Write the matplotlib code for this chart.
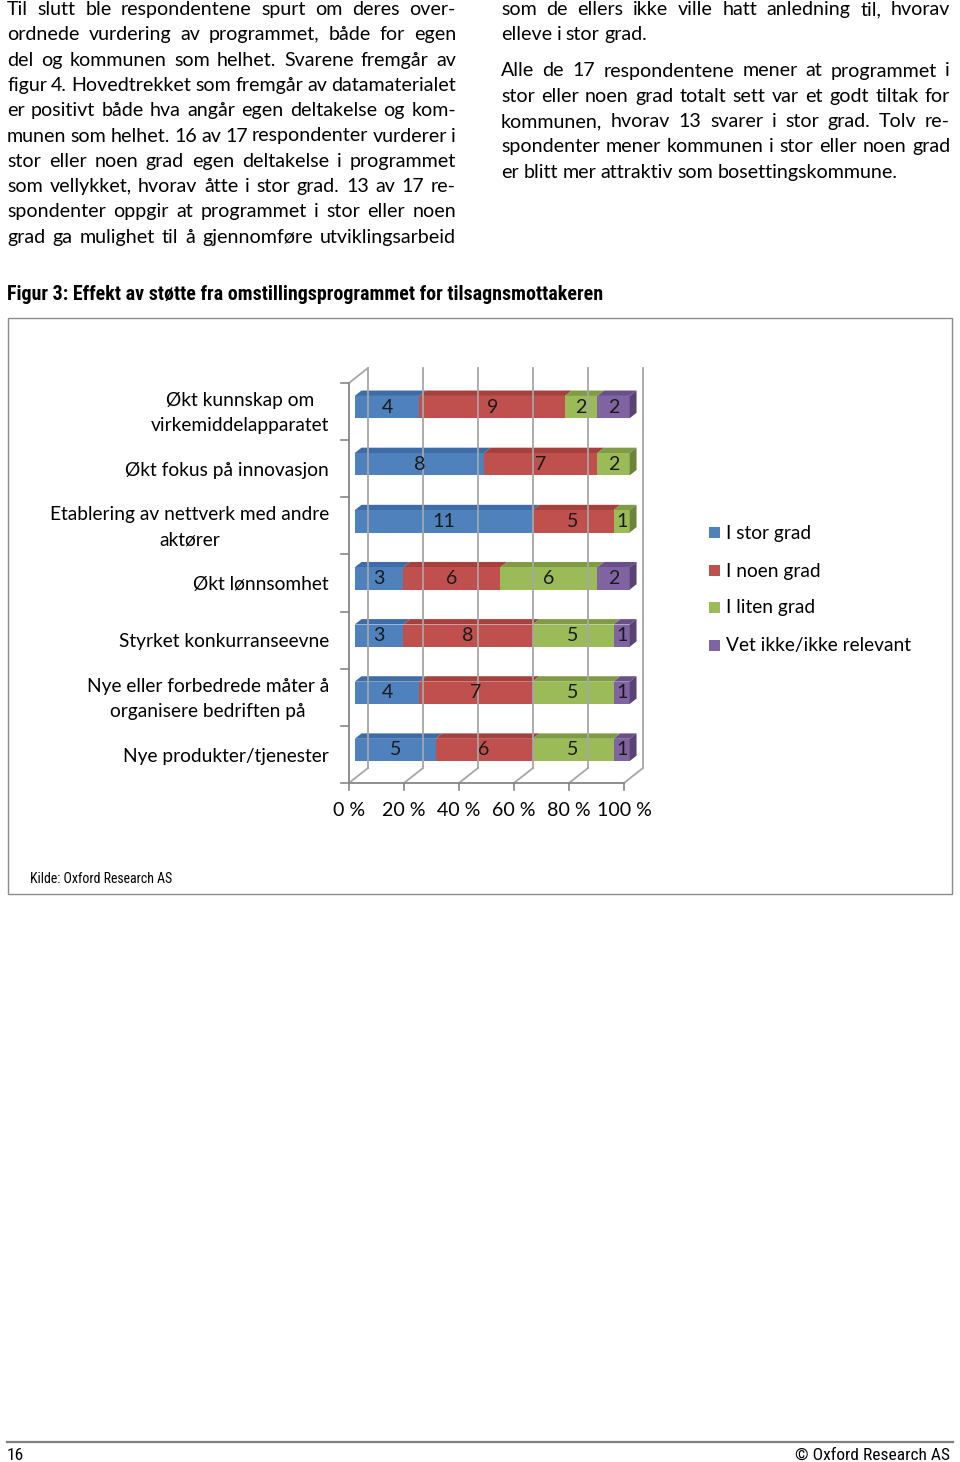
import matplotlib
matplotlib.use('Agg')
import matplotlib.pyplot as plt
from matplotlib.patches import Polygon, Rectangle
from matplotlib.lines import Line2D

W, H = 960, 1462

# Chart data
categories = ['Økt kunnskap om\nvirkemiddelapparatet', 'Økt fokus på innovasjon',
              'Etablering av nettverk med andre\naktører', 'Økt lønnsomhet',
              'Styrket konkurranseevne', 'Nye eller forbedrede måter å\norganisere bedriften på',
              'Nye produkter/tjenester']
series = ['I stor grad', 'I noen grad', 'I liten grad', 'Vet ikke/ikke relevant']
stor = [4, 8, 11, 3, 3, 4, 5]
noen = [9, 7, 5, 6, 8, 7, 6]
liten = [2, 2, 1, 6, 5, 5, 5]
vet_ikke = [2, 0, 0, 2, 1, 1, 1]
x_ticks = [0, 20, 40, 60, 80, 100]

front_colors = ['#4F81BD', '#C0504D', '#9BBB59', '#8064A2']
top_colors = ['#3D6CA6', '#A5403D', '#7F9C45', '#6A5089']
side_colors = ['#34598A', '#8A3532', '#6A8439', '#584374']

# Page text
left_col = ['Til slutt ble respondentene spurt om deres over-',
            'ordnede vurdering av programmet, både for egen',
            'del og kommunen som helhet. Svarene fremgår av',
            'figur 4. Hovedtrekket som fremgår av datamaterialet',
            'er positivt både hva angår egen deltakelse og kom-',
            'munen som helhet. 16 av 17 respondenter vurderer i',
            'stor eller noen grad egen deltakelse i programmet',
            'som vellykket, hvorav åtte i stor grad. 13 av 17 re-',
            'spondenter oppgir at programmet i stor eller noen',
            'grad ga mulighet til å gjennomføre utviklingsarbeid']
right_col = ['som de ellers ikke ville hatt anledning til, hvorav',
             'elleve i stor grad.',
             'Alle de 17 respondentene mener at programmet i',
             'stor eller noen grad totalt sett var et godt tiltak for',
             'kommunen, hvorav 13 svarer i stor grad. Tolv re-',
             'spondenter mener kommunen i stor eller noen grad',
             'er blitt mer attraktiv som bosettingskommune.']
left_base = [15, 40.3, 65.6, 90.9, 116.2, 141.5, 166.8, 192.1, 217.4, 242.7]
right_base = [15, 40.3, 76.5, 101.8, 127.1, 152.4, 177.7]
right_last = [1, 6]  # paragraph ends, not justified

title = 'Figur 3: Effekt av støtte fra omstillingsprogrammet for tilsagnsmottakeren'
source = 'Kilde: Oxford Research AS'

body_font = ['Lato', 'DejaVu Sans']
narrow_font = ['Liberation Sans Narrow', 'Roboto Condensed', 'Noto Sans Condensed',
               'DejaVu Sans Condensed', 'Liberation Sans']
fs = 14.1
fs_lab = 13.8

fig = plt.figure(figsize=(W / 100, H / 100), dpi=100)
renderer = fig.canvas.get_renderer()


def fx(px):
    return px / W


def fy(py):
    return 1 - py / H


def put_line(line, x0, x1, y, justify=True):
    words = line.split()
    texts = [fig.text(0, 0, w, fontsize=fs, family=body_font, va='baseline', ha='left')
             for w in words]
    widths = [t.get_window_extent(renderer).width for t in texts]
    if justify and len(words) > 1:
        gap = (x1 - x0 - sum(widths)) / (len(words) - 1)
    else:
        gap = fs * 100 / 72 * 0.23
    x = x0
    for t, w in zip(texts, widths):
        t.set_position((fx(x), fy(y)))
        x += w + gap


for line, y in zip(left_col, left_base):
    put_line(line, 7, 456, y)
for i, (line, y) in enumerate(zip(right_col, right_base)):
    put_line(line, 501, 950, y, justify=i not in right_last)

fig.text(fx(7), fy(295), title, fontsize=14.4, fontweight='bold', family=narrow_font,
         fontstretch='condensed', va='center', ha='left')

# chart frame
fig.add_artist(Rectangle((fx(8), fy(894)), 944 / W, 576 / H, transform=fig.transFigure,
                         fill=False, ec='#8c8c8c', lw=1))
fig.text(fx(30), fy(879), source, fontsize=10, family=narrow_font, fontstretch='condensed',
         va='center', ha='left')

# footer
fig.add_artist(Line2D([fx(7), fx(953)], [fy(1442), fy(1442)], color='#808080', lw=1.6))
fig.text(fx(7), fy(1455), '16', fontsize=12.5, family=narrow_font, fontstretch='condensed',
         va='center', ha='left')
fig.text(fx(950), fy(1455), '© Oxford Research AS', fontsize=12.5, family=narrow_font,
         fontstretch='condensed', va='center', ha='right')

# 3D stacked bar chart, front plane from x=349 to 624 px, y=383 to 783 px
ax = fig.add_axes([fx(349), fy(783), 275 / W, 400 / H])
n = len(categories)
ax.set_xlim(0, 100)
ax.set_ylim(n - 0.5, -0.5)
ax.axis('off')

px_x = 275 / 100
px_y = 400 / n
DX = 19 / px_x
DY = -15 / px_y
bottom, topy = n - 0.5, -0.5
grid_c = '#a6a6a6'
axis_c = '#868686'

for t in x_ticks:
    ax.plot([t + DX, t + DX], [bottom + DY, topy + DY], color=grid_c, lw=1.3, clip_on=False)
    ax.plot([t, t + DX], [bottom, bottom + DY], color=grid_c, lw=1.3, clip_on=False)
    ax.plot([t, t], [bottom, bottom + 7 / px_y], color=axis_c, lw=1.2, clip_on=False)
    ax.text(t, bottom + 27 / px_y, f'{t} %', fontsize=fs, family=body_font,
            ha='center', va='center')
ax.plot([0, 100], [bottom, bottom], color=axis_c, lw=1.3, clip_on=False)
ax.plot([0, 0], [bottom, topy], color=axis_c, lw=1.3, clip_on=False)
ax.plot([0, DX], [topy, topy + DY], color=grid_c, lw=1.3, clip_on=False)
for k in range(n + 1):
    yb = k - 0.5
    ax.plot([-8 / px_x, 0], [yb, yb], color=axis_c, lw=1.2, clip_on=False)

f0, fd, bh = 0.3, 0.36, 0.39
data = [stor, noen, liten, vet_ikke]
for i in range(n):
    vals = [s[i] for s in data]
    total = sum(vals)
    ox = f0 * DX
    oy = i + f0 * DY
    y0, y1 = oy - bh / 2, oy + bh / 2
    left = 0
    last = max(j for j, v in enumerate(vals) if v > 0)
    for j, v in enumerate(vals):
        if v == 0:
            continue
        w = v / total * 100
        xa, xb = left + ox, left + w + ox
        ax.add_patch(Polygon([(xa, y0), (xb, y0), (xb + fd * DX, y0 + fd * DY),
                              (xa + fd * DX, y0 + fd * DY)], closed=True,
                             fc=top_colors[j], ec='none', clip_on=False))
        ax.add_patch(Rectangle((xa, y0), w, bh, fc=front_colors[j], ec='none', clip_on=False))
        if j == last:
            ax.add_patch(Polygon([(xb, y0), (xb + fd * DX, y0 + fd * DY),
                                  (xb + fd * DX, y1 + fd * DY), (xb, y1)], closed=True,
                                 fc=side_colors[j], ec='none', clip_on=False))
        ax.text(xa + w / 2, oy, str(v), fontsize=fs, family=body_font, color='#1a1a1a',
                ha='center', va='center')
        left += w
    ax.text(-20 / px_x, i + 0.03, categories[i], fontsize=fs_lab, family=body_font,
            ha='right', va='center', multialignment='center', linespacing=1.6)

# legend
leg_y = [533, 571, 608, 646]
for j, (name, yy) in enumerate(zip(series, leg_y)):
    fig.add_artist(Rectangle((fx(709), fy(yy + 5)), 11 / W, 11 / H, transform=fig.transFigure,
                             fc=front_colors[j], ec='none'))
    fig.text(fx(726), fy(yy), name, fontsize=fs_lab, family=body_font, va='center', ha='left')

fig.savefig('out.png', dpi=100)
